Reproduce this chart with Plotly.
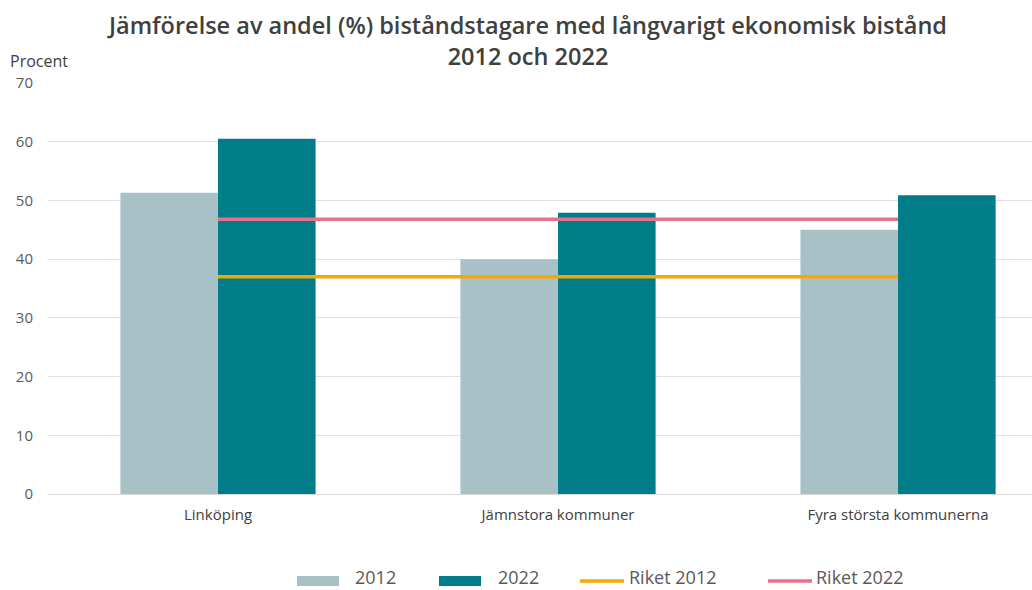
import plotly.graph_objects as go

# Andel (%) biståndstagare med långvarigt ekonomiskt bistånd
categories = ["Linköping", "Jämnstora kommuner", "Fyra största kommunerna"]
values_2012 = [51.3, 40.0, 45.0]
values_2022 = [60.5, 47.9, 50.9]
riket_2012 = [37.0, 37.0, 37.0]
riket_2022 = [46.8, 46.8, 46.8]
y_ticks = [0, 10, 20, 30, 40, 50, 60, 70]

font_family = "Open Sans"
text_grey = "#595959"
title_grey = "#404040"

colors = {"2012": "#A7C1C6", "2022": "#007D89",
          "Riket 2012": "#F5A800", "Riket 2022": "#E5728A"}

# Figure / plot-area geometry in pixels
W, H = 1032, 590
ML, MR, MT, MB = 48, 0, 83, 96
PW, PH = W - ML - MR, H - MT - MB


def px_x(px):
    return (px - ML) / PW


def px_y(py):
    return (H - MB - py) / PH


fig = go.Figure()
fig.add_trace(go.Bar(name="2012", x=categories, y=values_2012,
                     marker=dict(color=colors["2012"], line=dict(width=0))))
fig.add_trace(go.Bar(name="2022", x=categories, y=values_2022,
                     marker=dict(color=colors["2022"], line=dict(width=0))))
fig.add_trace(go.Scatter(name="Riket 2012", x=categories, y=riket_2012, mode="lines",
                         line=dict(color=colors["Riket 2012"], width=3.5)))
fig.add_trace(go.Scatter(name="Riket 2022", x=categories, y=riket_2022, mode="lines",
                         line=dict(color=colors["Riket 2022"], width=3.5)))

title_font = dict(family=font_family, size=23.5, color=title_grey, weight=600)
annotations = [
    dict(text="Jämförelse av andel (%) biståndstagare med långvarigt ekonomisk bistånd"
              "<br>2012 och 2022",
         xref="paper", yref="paper", x=px_x(527), y=px_y(41),
         xanchor="center", yanchor="middle", align="center",
         showarrow=False, font=title_font),
    dict(text="Procent", xref="paper", yref="paper", x=px_x(8), y=px_y(61),
         xanchor="left", yanchor="middle", showarrow=False,
         font=dict(size=16, color=title_grey, family=font_family)),
]

# Legend row along the bottom
legend_y = 580
shapes = []
legend_items = [
    ("2012", "rect", 297, 339, 353),
    ("2022", "rect", 439, 481, 496),
    ("Riket 2012", "line", 580, 624, 627),
    ("Riket 2022", "line", 768, 812, 814),
]
for name, kind, x0, x1, tx in legend_items:
    if kind == "rect":
        shapes.append(dict(type="rect", xref="paper", yref="paper",
                           x0=px_x(x0), x1=px_x(x1),
                           y0=px_y(legend_y + 6), y1=px_y(legend_y - 4),
                           fillcolor=colors[name], line=dict(width=0)))
    else:
        shapes.append(dict(type="line", xref="paper", yref="paper",
                           x0=px_x(x0), x1=px_x(x1),
                           y0=px_y(legend_y + 1), y1=px_y(legend_y + 1),
                           line=dict(color=colors[name], width=3.5)))
    annotations.append(dict(text=name, xref="paper", yref="paper",
                            x=px_x(tx), y=px_y(legend_y - 3),
                            xanchor="left", yanchor="middle", showarrow=False,
                            font=dict(size=18, color=text_grey, family=font_family)))

fig.update_layout(
    width=W, height=H,
    margin=dict(l=ML, r=MR, t=MT, b=MB),
    paper_bgcolor="white", plot_bgcolor="white",
    barmode="group", bargap=0.426, bargroupgap=0,
    font=dict(family=font_family, color=text_grey, size=13),
    showlegend=False,
    xaxis=dict(
        range=[-0.5, 2.394], showgrid=False, showline=False, zeroline=False,
        ticks="", tickfont=dict(size=15, color=title_grey), ticklabelstandoff=10,
    ),
    yaxis=dict(
        range=[0, 70], tickvals=y_ticks, showgrid=True, gridcolor="#E3E3E3", gridwidth=1,
        zeroline=True, zerolinecolor="#D9D9D9", zerolinewidth=1,
        ticks="", tickfont=dict(size=15, color=text_grey), ticklabelstandoff=14,
    ),
    shapes=shapes,
    annotations=annotations,
)

fig.write_html("out.html")
